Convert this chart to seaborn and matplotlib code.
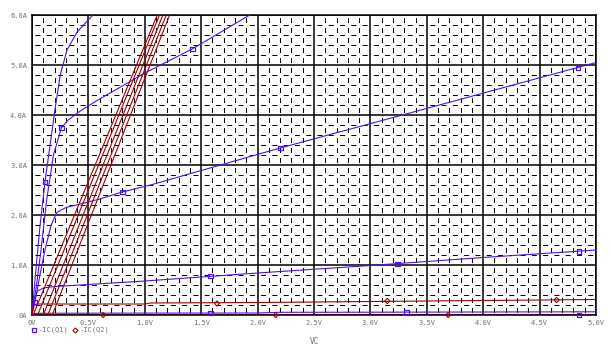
import numpy as np
import pandas as pd
import matplotlib
matplotlib.use("Agg")
import matplotlib.pyplot as plt
import seaborn as sns
from matplotlib.ticker import MultipleLocator, FixedLocator

sns.set_theme(style="white")
plt.rcParams['font.family'] = ['DejaVu Sans Mono', 'DejaVu Sans']
plt.rcParams['lines.scale_dashes'] = False

BLUE = "#5010F0"
RED = "#A00000"

# ---- data: -IC(Q1) family (blue) ----
q1_v0 = [0.0, 5.0]
q1_i0 = [0.0, 0.0]
q1_v1 = [0.0, 0.02, 0.1, 1.0, 2.0, 2.2, 3.0, 4.0, 5.0]
q1_i1 = [0.0, 0.03, 0.035, 0.038, 0.040, 0.054, 0.056, 0.060, 0.064]
q1_v2 = [0.0, 0.01, 0.03, 0.05, 0.1, 0.2, 0.5, 1.0, 2.0, 3.0, 4.0, 5.0]
q1_i2 = [0.0, 0.2, 0.38, 0.48, 0.54, 0.57, 0.61, 0.68, 0.84, 0.99, 1.15, 1.3]
q1_v3 = [0.0, 0.03, 0.07, 0.12, 0.17, 0.22, 0.3, 0.43, 0.6, 0.8, 1.05, 2.2, 3.71, 5.0]
q1_i3 = [0.0, 0.3, 0.8, 1.35, 1.8, 2.05, 2.15, 2.22, 2.32, 2.46, 2.6, 3.34, 4.26, 5.05]
q1_v4 = [0.0, 0.04, 0.08, 0.13, 0.19, 0.26, 0.32, 0.44, 0.6, 1.0, 1.42, 1.93, 2.2]
q1_i4 = [0.0, 0.6, 1.3, 2.3, 3.2, 3.74, 3.9, 4.1, 4.32, 4.84, 5.32, 6.0, 6.35]
q1_v5 = [0.0, 0.03, 0.07, 0.115, 0.2, 0.25, 0.31, 0.4, 0.54, 0.7]
q1_i5 = [0.0, 0.8, 1.76, 2.66, 4.05, 4.8, 5.3, 5.66, 6.0, 6.3]
q1_curves = [(q1_v0, q1_i0), (q1_v1, q1_i1), (q1_v2, q1_i2),
             (q1_v3, q1_i3), (q1_v4, q1_i4), (q1_v5, q1_i5)]
q1_mark_v = [4.85, 1.58, 3.32, 0.027, 1.58, 3.24, 4.85, 0.8, 2.2, 4.84, 0.26, 1.42, 0.115]
q1_mark_i = [0.0, 0.04, 0.056, 0.26, 0.78, 1.02, 1.27, 2.46, 3.34, 4.94, 3.74, 5.32, 2.66]

# ---- data: -IC(Q2) family (red) ----
q2_v0 = [0.0, 5.0]
q2_i0 = [0.0, 0.0]
q2_vf = [0.0, 0.01, 0.05, 1.0, 1.05, 2.0, 3.0, 4.0, 5.0]
q2_if = [0.0, 0.2, 0.22, 0.22, 0.24, 0.25, 0.27, 0.29, 0.31]
q2_ramp_v0 = [0.01, 0.05, 0.10, 0.14, 0.18]   # V where each ramp leaves 0 A
q2_ramp_v6 = [1.11, 1.13, 1.16, 1.19, 1.22]   # V where each ramp reaches 6 A
q2_ramp_i = [0.0, 6.0]
q2_mark_v = [0.63, 2.16, 3.69, 1.64, 3.15, 4.65]
q2_mark_i = [0.0, 0.0, 0.0, 0.23, 0.28, 0.30]

x_ticks = [0.0, 0.5, 1.0, 1.5, 2.0, 2.5, 3.0, 3.5, 4.0, 4.5, 5.0]
x_labels = ["0V", "0.5V", "1.0V", "1.5V", "2.0V", "2.5V", "3.0V", "3.5V", "4.0V", "4.5V", "5.0V"]
y_ticks = [0, 1, 2, 3, 4, 5, 6]
y_labels = ["0A", "1.0A", "2.0A", "3.0A", "4.0A", "5.0A", "6.0A"]
legend_labels = ["-IC(Q1)", "-IC(Q2)"]

W, H = 612, 346
fig = plt.figure(figsize=(W/100, H/100), dpi=100)
ax = fig.add_axes([32/W, 1-315/H, (596-32)/W, 300/H])

LW = 0.8
for v, i in q1_curves:
    sns.lineplot(x=v, y=i, color=BLUE, lw=LW, sort=False, estimator=None, ax=ax, zorder=3)
sns.scatterplot(x=q1_mark_v, y=q1_mark_i, marker="s", s=12, facecolor="none",
                edgecolor=BLUE, linewidth=0.9, ax=ax, zorder=4, clip_on=False)

sns.lineplot(x=q2_v0, y=q2_i0, color=RED, lw=1.0, sort=False, estimator=None, ax=ax, zorder=3)
sns.lineplot(x=q2_vf, y=q2_if, color=RED, lw=LW, sort=False, estimator=None, ax=ax, zorder=3)
for a, b in zip(q2_ramp_v0, q2_ramp_v6):
    sns.lineplot(x=[a, b], y=q2_ramp_i, color=RED, lw=LW, sort=False, estimator=None, ax=ax, zorder=3)
sns.scatterplot(x=q2_mark_v, y=q2_mark_i, marker="D", s=7, facecolor="none",
                edgecolor=RED, linewidth=0.8, ax=ax, zorder=4, clip_on=False)

ax.set_xlim(0, 5.0)
ax.set_ylim(0, 6.0)
ax.xaxis.set_major_locator(FixedLocator(x_ticks))
ax.yaxis.set_major_locator(FixedLocator(y_ticks))
ax.xaxis.set_minor_locator(MultipleLocator(0.1))
ax.yaxis.set_minor_locator(MultipleLocator(0.2))
ax.set_xticklabels(x_labels)
ax.set_yticklabels(y_labels)
ax.grid(which="major", color="black", lw=1.1, zorder=1)

px = 0.72  # points per pixel
# minor grid: dashes between the crossing lines
for gl in ax.xaxis.get_minorticklines():
    pass
ax.grid(which="minor", axis="x", color="black", lw=0.75,
        linestyle=(7.5*px, (5*px, 5*px)), zorder=1)
ax.grid(which="minor", axis="y", color="black", lw=0.75,
        linestyle=(8.28*px, (5*px, 6.28*px)), zorder=1)
ax.set_axisbelow(True)
for s in ax.spines.values():
    s.set_color("black")
    s.set_linewidth(1.1)
ax.tick_params(which="major", length=2, width=1, color="black", direction="out",
               labelsize=5, labelcolor="#707070", pad=1.5)
ax.tick_params(which="minor", length=0)
ax.set_xlabel("VC", fontsize=5.5, color="#707070", labelpad=8)
ax.set_ylabel("")

# legend below the plot
ly = 1-330/H
fig.add_artist(plt.Line2D([34/W], [ly], marker="s", markersize=3.2, markerfacecolor="none",
                          markeredgecolor=BLUE, markeredgewidth=0.9, linestyle="none",
                          transform=fig.transFigure))
fig.text(39/W, ly, legend_labels[0], color="#707070", fontsize=5, va="center")
fig.add_artist(plt.Line2D([75/W], [ly], marker="D", markersize=2.6, markerfacecolor="none",
                          markeredgecolor=RED, markeredgewidth=0.8, linestyle="none",
                          transform=fig.transFigure))
fig.text(80/W, ly, legend_labels[1], color="#707070", fontsize=5, va="center")

fig.savefig("out.png", dpi=100, facecolor="white")
